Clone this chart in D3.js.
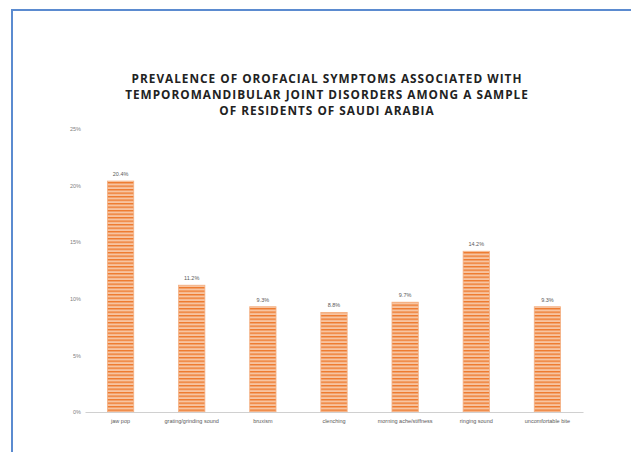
<!DOCTYPE html>
<html>
<head>
<meta charset="utf-8">
<script src="https://cdn.jsdelivr.net/npm/d3@7"></script>
<style>
  html, body { margin: 0; padding: 0; background: #fff; }
  svg { display: block; }
</style>
</head>
<body>
<svg id="chart" width="631" height="452"></svg>
<script>
// Symptom categories and prevalence (%)
const categories = [
  "jaw pop",
  "grating/grinding sound",
  "bruxism",
  "clenching",
  "morning ache/stiffness",
  "ringing sound",
  "uncomfortable bite"
];
const values = [20.4, 11.2, 9.3, 8.8, 9.7, 14.2, 9.3];
const yTicks = [0, 5, 10, 15, 20, 25];
const titleLines = [
  "PREVALENCE OF OROFACIAL SYMPTOMS ASSOCIATED WITH",
  "TEMPOROMANDIBULAR JOINT DISORDERS AMONG A SAMPLE",
  "OF RESIDENTS OF SAUDI ARABIA"
];

const svg = d3.select("#chart");

// Frame
svg.append("path")
  .attr("d", "M12,452 L12,10 L631,10")
  .attr("fill", "none")
  .attr("stroke", "#5b8bd0")
  .attr("stroke-width", 2);

// Horizontal stripe pattern for the bars
const defs = svg.append("defs");
const pat = defs.append("pattern")
  .attr("id", "hstripe")
  .attr("patternUnits", "userSpaceOnUse")
  .attr("width", 8).attr("height", 3.5);
pat.append("rect").attr("width", 8).attr("height", 3.5).attr("fill", "#f7c4a1");
pat.append("rect").attr("y", 0).attr("width", 8).attr("height", 1.4).attr("fill", "#ee7a2e");

// Title
svg.append("g")
  .selectAll("text")
  .data(titleLines)
  .join("text")
  .attr("x", 327)
  .attr("y", (d, i) => 83 + i * 16)
  .attr("text-anchor", "middle")
  .attr("font-family", "'Open Sans', sans-serif")
  .attr("font-weight", "bold")
  .attr("font-size", 11.8)
  .attr("letter-spacing", 1.0)
  .attr("fill", "#222")
  .text(d => d);

// Scales
const x = d3.scaleBand()
  .domain(categories)
  .range([85, 583])
  .paddingInner(0.63)
  .paddingOuter(0.315);
const y = d3.scaleLinear().domain([0, 25]).range([412, 129]);

// Y axis labels
const yAxis = d3.axisLeft(y)
  .tickValues(yTicks)
  .tickFormat(d => d + "%")
  .tickSize(0)
  .tickPadding(4);
const gy = svg.append("g").attr("transform", "translate(85,0)").call(yAxis);
gy.select(".domain").remove();
gy.selectAll("text")
  .attr("font-family", "'Liberation Sans', sans-serif")
  .attr("font-size", 5.5)
  .attr("fill", "#7f7f7f");

// Bars
svg.append("g")
  .selectAll("rect")
  .data(values)
  .join("rect")
  .attr("x", (d, i) => x(categories[i]))
  .attr("y", d => y(d))
  .attr("width", x.bandwidth())
  .attr("height", d => y(0) - y(d))
  .attr("fill", "url(#hstripe)")
  .attr("stroke", "#f4b083")
  .attr("stroke-width", 0.8);

// Value labels
svg.append("g")
  .selectAll("text")
  .data(values)
  .join("text")
  .attr("x", (d, i) => x(categories[i]) + x.bandwidth() / 2)
  .attr("y", d => y(d) - 5)
  .attr("text-anchor", "middle")
  .attr("font-family", "'Liberation Sans', sans-serif")
  .attr("font-size", 5.5)
  .attr("fill", "#595959")
  .text(d => d.toFixed(1) + "%");

// X axis
const xAxis = d3.axisBottom(x).tickSize(0).tickPadding(7);
const gx = svg.append("g").attr("transform", "translate(0,412)").call(xAxis);
gx.select(".domain")
  .attr("stroke", "#d0d0d0")
  .attr("stroke-width", 1.2);
gx.selectAll("text")
  .attr("font-family", "'Liberation Sans', sans-serif")
  .attr("font-size", 5.5)
  .attr("fill", "#595959");
</script>
</body>
</html>
